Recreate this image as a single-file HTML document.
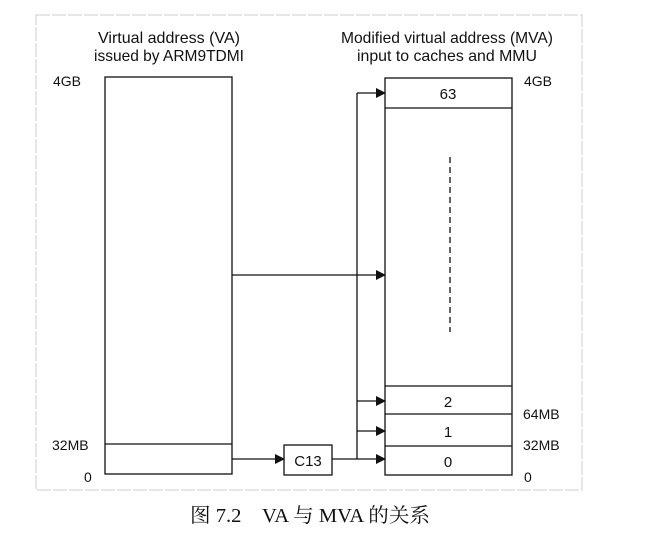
<!DOCTYPE html>
<html><head><meta charset="utf-8"><style>
body{margin:0;background:#fff;}
svg{display:block;}
text{font-family:"Liberation Sans",Arial,sans-serif;fill:#111;}
</style></head><body>
<svg width="665" height="537" viewBox="0 0 665 537" xmlns="http://www.w3.org/2000/svg">
<defs><marker id="a" markerWidth="10" markerHeight="10" refX="9" refY="5" orient="auto" markerUnits="userSpaceOnUse"><path d="M0,0 L10,5 L0,10 z" fill="#111"/></marker></defs>
<rect x="36" y="15" width="546" height="475" fill="none" stroke="#ccc" stroke-width="1" stroke-dasharray="14 2"/>
<g font-size="16" text-anchor="middle">
<text x="169" y="43" textLength="142" lengthAdjust="spacingAndGlyphs">Virtual address (VA)</text>
<text x="169" y="61" textLength="150" lengthAdjust="spacingAndGlyphs">issued by ARM9TDMI</text>
<text x="447" y="43" textLength="212" lengthAdjust="spacingAndGlyphs">Modified virtual address (MVA)</text>
<text x="447" y="61" textLength="180" lengthAdjust="spacingAndGlyphs">input to caches and MMU</text>
</g>
<g font-size="14">
<text x="53" y="86">4GB</text>
<text x="52" y="450">32MB</text>
<text x="84" y="482">0</text>
<text x="524" y="86">4GB</text>
<text x="523" y="419">64MB</text>
<text x="523" y="450">32MB</text>
<text x="524" y="482">0</text>
</g>
<g fill="none" stroke="#111" stroke-width="1.3">
<rect x="105" y="77" width="127" height="397"/>
<line x1="105" y1="444" x2="232" y2="444"/>
<rect x="385" y="78" width="127" height="397"/>
<line x1="385" y1="108" x2="512" y2="108"/>
<line x1="385" y1="386" x2="512" y2="386"/>
<line x1="385" y1="414" x2="512" y2="414"/>
<line x1="385" y1="446" x2="512" y2="446"/>
<line x1="450" y1="157" x2="450" y2="332" stroke-dasharray="6 4"/>
<rect x="284" y="445" width="48" height="30"/>
<line x1="232" y1="459" x2="284" y2="459" marker-end="url(#a)"/>
<line x1="332" y1="459" x2="385" y2="459" marker-end="url(#a)"/>
<line x1="357" y1="459" x2="357" y2="93"/>
<line x1="357" y1="93" x2="385" y2="93" marker-end="url(#a)"/>
<line x1="357" y1="401" x2="385" y2="401" marker-end="url(#a)"/>
<line x1="357" y1="431" x2="385" y2="431" marker-end="url(#a)"/>
<line x1="232" y1="275" x2="385" y2="275" marker-end="url(#a)"/>
</g>
<g font-size="15" text-anchor="middle">
<text x="448" y="99">63</text>
<text x="448" y="407">2</text>
<text x="448" y="437">1</text>
<text x="448" y="467">0</text>
<text x="308" y="466">C13</text>
</g>
<text x="190" y="522" font-size="20" textLength="240" lengthAdjust="spacingAndGlyphs" style="font-family:'Liberation Serif','Noto Serif CJK SC',serif">图 7.2　VA 与 MVA 的关系</text>
</svg>
</body></html>
